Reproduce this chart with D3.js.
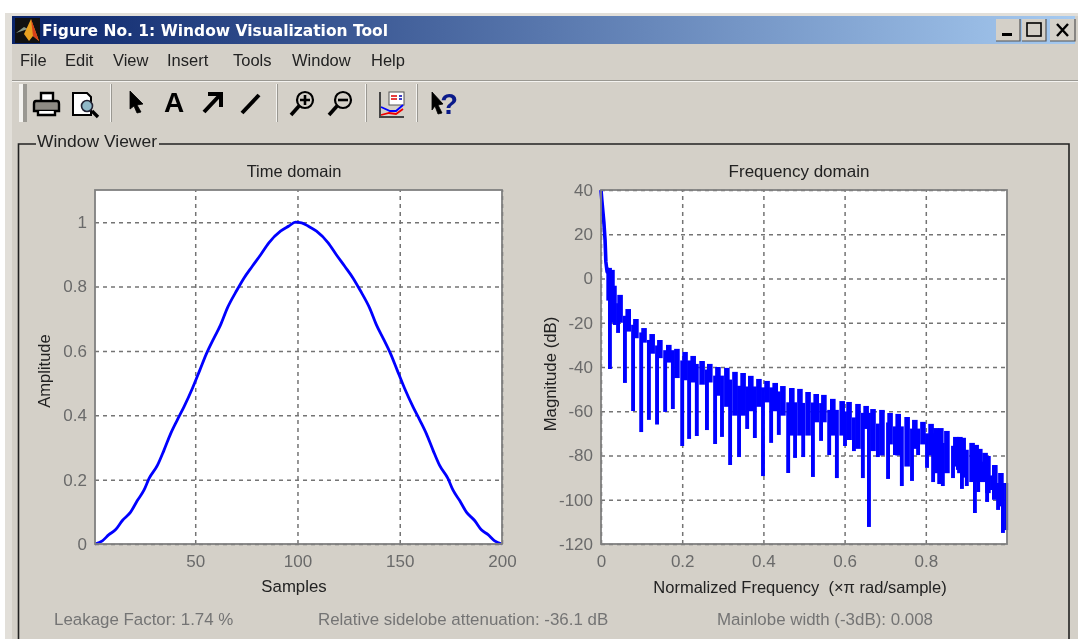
<!DOCTYPE html>
<html>
<head>
<meta charset="utf-8">
<title>Window Visualization Tool</title>
<script src="https://cdn.jsdelivr.net/npm/d3@7"></script>
<style>
    html, body { margin: 0; padding: 0; background: #fff; overflow: hidden; }
    svg { display: block; filter: blur(0.45px); font-family: "Liberation Sans", Arial, sans-serif; }
    .tick text { font-size: 17px; fill: #6a6a6a; font-family: "Liberation Sans", Arial, sans-serif; }
    .grid line { stroke: #747474; stroke-width: 1.5; stroke-dasharray: 4 4; }
    .grid .domain { display: none; }
</style>
</head>
<body>
<div id="chart"></div>
<script>
// values
const menuItems = ["File", "Edit", "View", "Insert", "Tools", "Window", "Help"];
const menuX = [20, 65, 113, 167, 233, 292, 371];

const timeTicksX = [50, 100, 150, 200];
const timeTicksY = [0, 0.2, 0.4, 0.6, 0.8, 1];
const freqTicksX = [0, 0.2, 0.4, 0.6, 0.8];
const freqTicksY = [40, 20, 0, -20, -40, -60, -80, -100, -120];

const samples = [1, 4.6, 7.8, 11, 14.4, 18.4, 21.7, 25, 27.4, 31.5, 34.7, 38, 41.2, 44.5, 48.6, 52.3, 55.4, 59.1,
    62.4, 65.7, 70.5, 73.8, 77.9, 82, 86, 91.7, 95.8, 99, 102, 105.2, 109.3, 115, 119, 123.1, 127.2, 130.5, 135.3,
    138.6, 141.9, 145.6, 148.7, 152.4, 156.5, 159.8, 163, 166.3, 169.5, 173.6, 176, 179.3, 182.6, 186.6, 189.9, 193.2, 196.4, 200];
const amplitude = [0, 0.01, 0.029, 0.044, 0.073, 0.099, 0.135, 0.168, 0.203, 0.244, 0.291, 0.343, 0.385, 0.426, 0.483, 0.541, 0.59, 0.639,
    0.681, 0.733, 0.79, 0.826, 0.863, 0.899, 0.936, 0.972, 0.988, 1, 0.998, 0.988, 0.972, 0.936, 0.899, 0.863, 0.826, 0.79, 0.733,
    0.681, 0.639, 0.59, 0.541, 0.483, 0.426, 0.385, 0.343, 0.291, 0.244, 0.203, 0.168, 0.135, 0.099, 0.073, 0.044, 0.029, 0.01, 0];

// main lobe of the response
const mainFreq = [0, 0.002, 0.007, 0.01, 0.012, 0.015, 0.02];
const mainDb = [40, 35.5, 25.6, 17.4, 7.5, 3, 4.8];

// each sidelobe shows up as a solid strip, top and lower end of the strip
const lobeFreq = [0.02, 0.027, 0.047, 0.067, 0.086, 0.106, 0.126, 0.145, 0.167, 0.187,
    0.207, 0.227, 0.249, 0.268, 0.288, 0.31, 0.33, 0.35, 0.369, 0.389,
    0.409, 0.429, 0.448, 0.47, 0.49, 0.51, 0.53, 0.549, 0.571, 0.594,
    0.611, 0.633, 0.653, 0.67, 0.692, 0.712, 0.732, 0.754, 0.773, 0.793,
    0.813, 0.825, 0.837, 0.852, 0.874, 0.884, 0.892, 0.914, 0.924, 0.933,
    0.946, 0.953, 0.97, 0.985];
const lobeTop = [4.8, 3.9, -7.4, -13.8, -18.3, -22.4, -25.1, -27.8, -30, -31.8,
    -33.2, -35, -37.3, -38.6, -40, -40.4, -42.2, -42.7, -44, -45.4,
    -46.3, -47.2, -48.6, -49.5, -49.9, -51.3, -52.2, -52.6, -54.4, -55.4,
    -55.8, -56.7, -57.6, -59, -59.4, -60.8, -61.2, -62.6, -63.9, -64.8,
    -65.7, -67.6, -67.6, -68.9, -71.6, -71.6, -72, -74.3, -75.2, -77,
    -78.8, -80.2, -84.3, -87.9];
const lobeFloor = [-10, -20, -20, -24, -27, -29, -34, -36, -38, -45,
    -46, -47, -48, -47, -53, -58, -62, -62, -60, -58,
    -56, -60, -62, -71, -71, -71, -65, -65, -71, -71,
    -73, -77, -68, -78, -80, -75, -80, -85, -77, -75,
    -80, -88, -90, -88, -85, -88, -90, -92, -92, -92,
    -92, -97, -100, -103];

// nulls between the lobes, drawn as spikes
const nullFreq = [0.022, 0.034, 0.042, 0.059, 0.079, 0.099, 0.118, 0.138, 0.158, 0.177,
    0.2, 0.217, 0.236, 0.261, 0.281, 0.298, 0.318, 0.34, 0.36, 0.379,
    0.399, 0.419, 0.438, 0.461, 0.478, 0.498, 0.522, 0.542, 0.562, 0.581,
    0.601, 0.623, 0.645, 0.66, 0.682, 0.707, 0.724, 0.741, 0.766, 0.781,
    0.803, 0.818, 0.833, 0.842, 0.867, 0.879, 0.889, 0.901, 0.921, 0.929,
    0.941, 0.951, 0.963, 0.978, 0.99, 0.998];
const nullDb = [-40.9, -21, -24.6, -47.2, -59.9, -69.4, -63.9, -66, -60.3, -59,
    -75.7, -72.5, -71.2, -68.5, -74.8, -71.6, -84.3, -80.7, -68, -72.1,
    -89.3, -74.3, -70.7, -87.9, -81.1, -80.7, -89.7, -73.4, -79.8, -90.2,
    -75.7, -78, -90.2, -112.3, -80.7, -90.6, -79.8, -93.8, -91.5, -79.8,
    -85.6, -92, -92.9, -93.8, -90.2, -86.5, -95.1, -93.8, -106, -96.5,
    -92, -101, -95.6, -104.6, -115, -113.7];

const width = 1078;
const height = 639;

const svg = d3.select("#chart")
    .append("svg")
    .attr("width", width)
    .attr("height", height);

const defs = svg.append("defs");
const titleGrad = defs.append("linearGradient").attr("id", "titlebar");
titleGrad.append("stop").attr("offset", "0%").attr("stop-color", "#0a246a");
titleGrad.append("stop").attr("offset", "100%").attr("stop-color", "#a6caf0");

// window chrome
svg.append("rect").attr("x", 5).attr("y", 13).attr("width", width - 5).attr("height", height - 13).attr("fill", "#e2dfd9");
svg.append("rect").attr("x", 12).attr("y", 16).attr("width", width - 12).attr("height", height - 16).attr("fill", "#d4d0c8");
svg.append("rect").attr("x", 12).attr("y", 16).attr("width", width - 15).attr("height", 28).attr("fill", "url(#titlebar)");

svg.append("text")
    .attr("x", 42).attr("y", 36)
    .attr("font-family", "'DejaVu Sans', sans-serif")
    .attr("font-size", 16).attr("font-weight", "bold")
    .attr("textLength", 346).attr("lengthAdjust", "spacingAndGlyphs")
    .attr("fill", "#fff")
    .text("Figure No. 1: Window Visualization Tool");

// matlab logo
svg.append("rect").attr("x", 15).attr("y", 18).attr("width", 25).attr("height", 25).attr("fill", "#111");
svg.append("path").attr("d", "M16 33 L24 27 L28 29 Z").attr("fill", "#8a9a8a");
svg.append("path").attr("d", "M24 34 L31 19 L39 41 L33 36 L29 41 Z").attr("fill", "#e8a020");
svg.append("path").attr("d", "M31 19 L39 41 L33 36 Z").attr("fill", "#d8401a");

// title bar buttons
const winButton = (x, w) => {
    svg.append("rect").attr("x", x).attr("y", 19).attr("width", w).attr("height", 22).attr("fill", "#d4d0c8");
    svg.append("path").attr("d", `M${x} 41 H${x + w} V19`).attr("fill", "none").attr("stroke", "#555").attr("stroke-width", 1.2);
};
winButton(996, 24);
winButton(1022, 24);
winButton(1050, 25);
svg.append("rect").attr("x", 1002).attr("y", 33).attr("width", 10).attr("height", 3).attr("fill", "#000");
svg.append("rect").attr("x", 1027).attr("y", 23).attr("width", 14).attr("height", 13).attr("fill", "none").attr("stroke", "#000").attr("stroke-width", 1.6);
svg.append("path").attr("d", "M1057 24 L1068 36 M1068 24 L1057 36").attr("stroke", "#000").attr("stroke-width", 2.4);

// menu
svg.selectAll(".menu")
    .data(menuItems)
    .join("text")
    .attr("class", "menu")
    .attr("x", (d, i) => menuX[i])
    .attr("y", 66)
    .attr("font-size", 16.5)
    .attr("fill", "#222")
    .text(d => d);
svg.append("line").attr("x1", 12).attr("x2", width).attr("y1", 80.5).attr("y2", 80.5).attr("stroke", "#9a9892");
svg.append("line").attr("x1", 12).attr("x2", width).attr("y1", 81.5).attr("y2", 81.5).attr("stroke", "#f4f3f0");

// toolbar separators
[[19, 8], [110, 2], [276, 2], [365, 2], [416, 2]].forEach(([x, w]) => {
    svg.append("rect").attr("x", x).attr("y", 84).attr("width", w / 2).attr("height", 38).attr("fill", "#f4f3f0");
    svg.append("rect").attr("x", x + w / 2).attr("y", 84).attr("width", w / 2).attr("height", 38).attr("fill", "#9a9892");
});

const icon = (d, fill, stroke, sw) => svg.append("path").attr("d", d)
    .attr("fill", fill || "none").attr("stroke", stroke || "none").attr("stroke-width", sw || 1);

// printer
icon("M41 101 V93 H53 V101", "#fff", "#000", 2.4);
icon("M36 101 H57 Q59 101 59 104 V111 H34 V104 Q34 101 36 101 Z", "#8e8b84", "#000", 2.4);
icon("M38 111 V115 H55 V111", "#fff", "#000", 2.4);
// preview page
icon("M73 93 H87 L91 97 V115 H73 Z", "#fff", "#000", 2);
icon("M92 111 L98 117", null, "#000", 3.4);
svg.append("circle").attr("cx", 87).attr("cy", 106).attr("r", 5.5).attr("fill", "#8fb8c8").attr("stroke", "#223").attr("stroke-width", 1.6);
// pointer
icon("M130 91 L143 104 L137 105 L141 112 L137 113 L134 106 L130 109 Z", "#000", "#000", 0.8);
// A
svg.append("text").attr("x", 174).attr("y", 112).attr("text-anchor", "middle").attr("font-size", 28).attr("font-weight", "bold").attr("fill", "#000").text("A");
// arrow
icon("M204 112 L220 95 M208 94 H221 V107", null, "#000", 4);
// line
icon("M242 113 L259 95", null, "#000", 4);
// zoom in and out
[[305, true], [343, false]].forEach(([cx, plus]) => {
    svg.append("circle").attr("cx", cx).attr("cy", 100).attr("r", 8).attr("fill", "#d4d0c8").attr("stroke", "#000").attr("stroke-width", 2.2);
    icon(`M${cx - 6} 106 L${cx - 14} 115`, null, "#000", 3.6);
    icon(plus ? `M${cx - 5} 100 H${cx + 5} M${cx} 95 V105` : `M${cx - 5} 100 H${cx + 5}`, null, "#000", 2.6);
});
// plot tool
icon("M380 92 V117 H404", "#d4d0c8", "#444", 2);
svg.append("rect").attr("x", 389).attr("y", 92).attr("width", 15).attr("height", 13).attr("fill", "#fff").attr("stroke", "#555");
icon("M391 96 H397 M391 99 H397", null, "#d00", 1.5);
icon("M399 96 H402 M399 99 H402", null, "#00a", 1.5);
icon("M381 107 L390 111 L396 111 L403 105", null, "#00f", 1.8);
icon("M381 115 L389 113 L396 114 L403 109", null, "#e00", 1.8);
// help
icon("M432 92 L443 104 L438 105 L442 113 L438 114 L435 106 L432 110 Z", "#000", "#000", 0.8);
svg.append("text").attr("x", 449).attr("y", 114).attr("text-anchor", "middle").attr("font-size", 29).attr("font-weight", "bold").attr("fill", "#0a1a8a").text("?");

// panel frame
svg.append("path")
    .attr("d", `M36 144 H18.5 V${height} M159 144 H1069 V${height}`)
    .attr("fill", "none").attr("stroke", "#222").attr("stroke-width", 1.6);
svg.append("text").attr("x", 37).attr("y", 147).attr("font-size", 16.5).attr("fill", "#222")
    .attr("textLength", 120).attr("lengthAdjust", "spacingAndGlyphs").text("Window Viewer");

// draws one matlab style axes box with grid, returns scales
function drawAxes(box, xDomain, yDomain, xTicks, yTicks, xFormat, yFormat) {
    const x = d3.scaleLinear().domain(xDomain).range([box.left, box.right]);
    const y = d3.scaleLinear().domain(yDomain).range([box.bottom, box.top]);
    const w = box.right - box.left;
    const h = box.bottom - box.top;

    svg.append("rect")
        .attr("x", box.left).attr("y", box.top)
        .attr("width", w).attr("height", h)
        .attr("fill", "#fff");

    svg.append("g")
        .attr("class", "grid")
        .attr("transform", `translate(0,${box.bottom})`)
        .call(d3.axisBottom(x).tickValues(xTicks).tickSize(-h).tickFormat(""));
    svg.append("g")
        .attr("class", "grid")
        .attr("transform", `translate(${box.left},0)`)
        .call(d3.axisLeft(y).tickValues(yTicks).tickSize(-w).tickFormat(""));

    const labelsX = svg.append("g")
        .attr("transform", `translate(0,${box.bottom})`)
        .call(d3.axisBottom(x).tickValues(xTicks).tickSize(0).tickPadding(11).tickFormat(xFormat));
    labelsX.select(".domain").remove();
    const labelsY = svg.append("g")
        .attr("transform", `translate(${box.left},0)`)
        .call(d3.axisLeft(y).tickValues(yTicks).tickSize(0).tickPadding(8).tickFormat(yFormat));
    labelsY.select(".domain").remove();

    return { x, y };
}

function drawBorder(box) {
    svg.append("rect")
        .attr("x", box.left).attr("y", box.top)
        .attr("width", box.right - box.left).attr("height", box.bottom - box.top)
        .attr("fill", "none").attr("stroke", "#808080").attr("stroke-width", 1.8);
}

function drawLine(scales, xs, ys, strokeWidth, curve) {
    svg.append("path")
        .datum(xs.map((d, i) => [d, ys[i]]))
        .attr("fill", "none")
        .attr("stroke", "#0000ff")
        .attr("stroke-width", strokeWidth)
        .attr("stroke-linejoin", "round")
        .attr("d", d3.line().curve(curve).x(d => scales.x(d[0])).y(d => scales.y(d[1])));
}

function drawStrips(scales, xs, tops, bottoms, strokeWidth) {
    svg.append("g")
        .selectAll("line")
        .data(xs)
        .join("line")
        .attr("x1", d => scales.x(d))
        .attr("x2", d => scales.x(d))
        .attr("y1", (d, i) => scales.y(tops[i]))
        .attr("y2", (d, i) => scales.y(bottoms[i]))
        .attr("stroke", "#0000ff")
        .attr("stroke-width", strokeWidth);
}

const timeBox = { left: 95, right: 502, top: 190, bottom: 544 };
const freqBox = { left: 601, right: 1007, top: 190, bottom: 544 };

const timeScales = drawAxes(timeBox, [1, 200], [0, 1.1], timeTicksX, timeTicksY, d3.format("d"), d => d);
drawLine(timeScales, samples, amplitude, 2.8, d3.curveMonotoneX);
drawBorder(timeBox);

const freqScales = drawAxes(freqBox, [0, 1], [-120, 40], freqTicksX, freqTicksY, d => d, d => d);
drawLine(freqScales, mainFreq, mainDb, 3.6, d3.curveLinear);
// a spike runs up into the strip of the closest lobe
const closestLobe = nullFreq.map(f => d3.leastIndex(lobeFreq, (a, b) => Math.abs(a - f) - Math.abs(b - f)));
const nullTop = closestLobe.map(i => lobeTop[i] * 0.7 + lobeFloor[i] * 0.3);
drawStrips(freqScales, nullFreq, nullTop, nullDb, 3.9);
drawStrips(freqScales, lobeFreq, lobeTop, lobeFloor, 5.6);
drawBorder(freqBox);

// titles and axis labels
const label = (x, y, text, size, rotate) => svg.append("text")
    .attr("text-anchor", "middle")
    .attr("font-size", size)
    .attr("fill", "#222")
    .attr("transform", `translate(${x},${y})${rotate ? " rotate(-90)" : ""}`)
    .style("white-space", "pre")
    .text(text);
label(294, 177, "Time domain", 16.5);
label(799, 177, "Frequency domain", 17);
label(294, 592, "Samples", 16.8);
label(800, 593, "Normalized Frequency  (\u00d7\u03c0 rad/sample)", 16.5);
label(50, 371, "Amplitude", 16.5, true);
label(556, 374, "Magnitude (dB)", 16.8, true);

// bottom readouts
[[54, "Leakage Factor: 1.74 %"], [318, "Relative sidelobe attenuation: -36.1 dB"], [717, "Mainlobe width (-3dB): 0.008"]].forEach(([x, t]) => {
    svg.append("text").attr("x", x).attr("y", 625).attr("font-size", 16.9).attr("fill", "#747474").text(t);
});
</script>
</body>
</html>
